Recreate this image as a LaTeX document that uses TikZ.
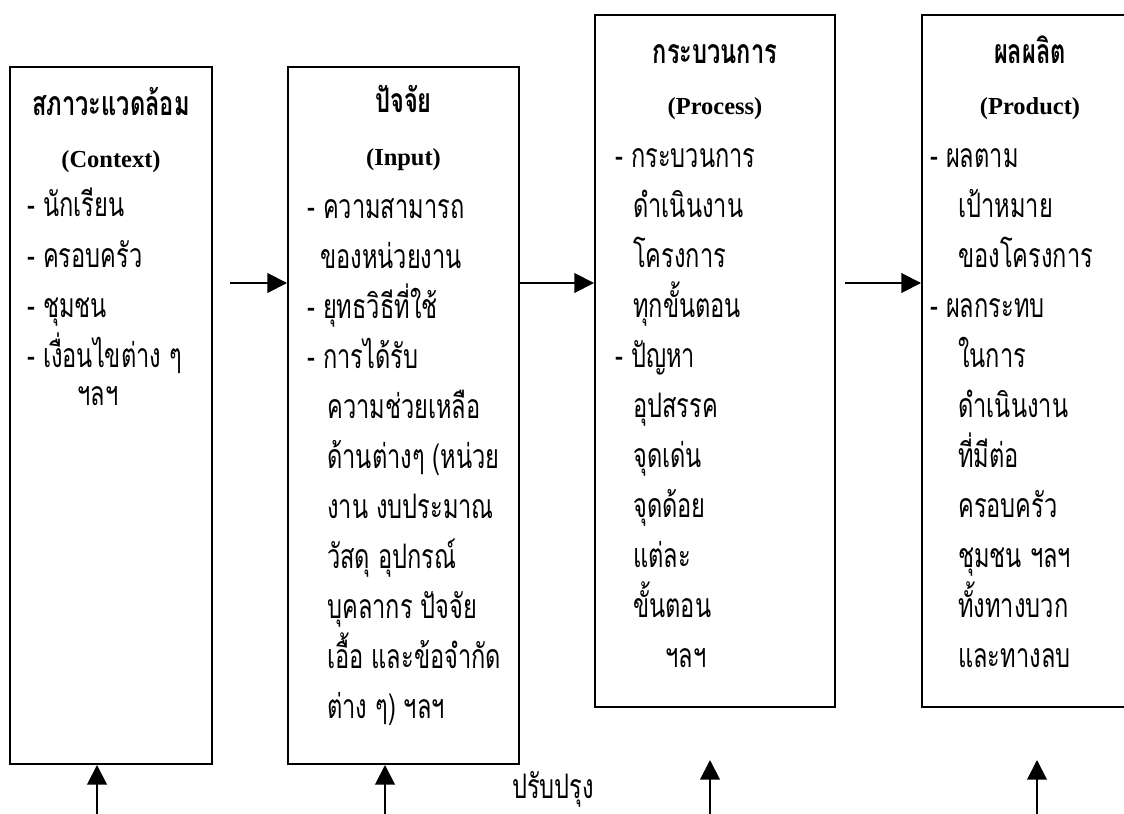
\documentclass[tikz,border=0pt]{standalone}
\usepackage{fontspec}
\newfontfamily\thaifont[Script=Thai,FakeStretch=0.7]{Loma}
\newfontfamily\latinfont{Liberation Serif}
\usetikzlibrary{arrows.meta,positioning}
\tikzset{
  >={Triangle[length=14pt,width=14pt]},
  stage/.style={draw, line width=1.4pt, inner sep=0pt},
  title/.style={font=\thaifont\bfseries\fontsize{24}{30}\selectfont, inner sep=0pt, anchor=base},
  eng/.style={font=\latinfont\bfseries\fontsize{17.4}{21}\selectfont, inner sep=0pt, anchor=base},
  item/.style={font=\thaifont\fontsize{24}{30}\selectfont, inner sep=0pt, anchor=base west},
  flow/.style={->, line width=1.4pt}
}
\begin{document}
\begin{tikzpicture}
\clip (0,0) rectangle (28.1,-20.35);
% the four stages
\node[stage, minimum width=5.05cm, minimum height=17.425cm] (ctx) at (2.775,-10.3875) {};
\node[stage, minimum width=5.775cm, minimum height=17.425cm] (inp) at (10.0875,-10.3875) {};
\node[stage, minimum width=6cm, minimum height=17.3cm] (proc) at (17.875,-9.025) {};
\node[stage, minimum width=5.7cm, minimum height=17.3cm] (prod) at (25.9,-9.025) {};
% headings
\node[title] (ctx-t) at (2.775,-2.875) {สภาวะแวดล้อม};
\node[eng] (ctx-e) at (2.775,-4.175) {(Context)};
\node[title] (inp-t) at (10.0875,-2.8) {ปัจจัย};
\node[eng] (inp-e) at (10.0875,-4.125) {(Input)};
\node[title] (proc-t) at (17.875,-1.575) {กระบวนการ};
\node[eng] (proc-e) at (17.875,-2.85) {(Process)};
\node[title] (prod-t) at (25.75,-1.575) {ผลผลิต};
\node[eng] (prod-e) at (25.75,-2.85) {(Product)};
% items
\foreach \x/\y/\txt [count=\i] in {0.675/5.4/- นักเรียน, 0.675/6.675/- ครอบครัว,
    0.675/7.925/- ชุมชน, 0.675/9.175/- เงื่อนไขต่าง ๆ, 1.925/10.125/ฯลฯ}
  \node[item] (ctx-\i) at (\x,-\y) {\txt};
\foreach \x/\txt [count=\i] in {7.675/- ความสามารถ, 8.0/ของหน่วยงาน, 7.675/- ยุทธวิธีที่ใช้,
    7.675/- การได้รับ, 8.175/ความช่วยเหลือ, 8.175/ด้านต่างๆ (หน่วย, 8.175/งาน งบประมาณ,
    8.175/วัสดุ อุปกรณ์, 8.175/บุคลากร ปัจจัย, 8.175/เอื้อ และข้อจำกัด, 8.175/ต่าง ๆ) ฯลฯ}
  \node[item] (inp-\i) at (\x,{-5.45-1.25*(\i-1)}) {\txt};
\foreach \x/\txt [count=\i] in {15.375/- กระบวนการ, 15.825/ดำเนินงาน, 15.825/โครงการ,
    15.825/ทุกขั้นตอน, 15.375/- ปัญหา, 15.825/อุปสรรค, 15.825/จุดเด่น, 15.825/จุดด้อย,
    15.825/แต่ละ, 15.825/ขั้นตอน, 16.625/ฯลฯ}
  \node[item] (proc-\i) at (\x,{-4.175-1.25*(\i-1)}) {\txt};
\foreach \x/\txt [count=\i] in {23.25/- ผลตาม, 23.95/เป้าหมาย, 23.95/ของโครงการ,
    23.25/- ผลกระทบ, 23.95/ในการ, 23.95/ดำเนินงาน, 23.95/ที่มีต่อ, 23.95/ครอบครัว,
    23.95/ชุมชน ฯลฯ, 23.95/ทั้งทางบวก, 23.95/และทางลบ}
  \node[item] (prod-\i) at (\x,{-4.175-1.25*(\i-1)}) {\txt};
% flow between stages
\coordinate (a1) at (5.75,-7.075);
\coordinate (a2) at (12.975,-7.075);
\coordinate (a3) at (21.125,-7.075);
\draw[flow] (a1) -- (a1 -| inp.west);
\draw[flow] (a2 -| inp.east) -- (a2 -| proc.west);
\draw[flow] (a3) -- (a3 -| prod.west);
% feedback from below
\coordinate (b1) at (2.425,-20.5);
\coordinate (b2) at (9.625,-20.5);
\coordinate (b3) at (17.75,-20.5);
\coordinate (b4) at (25.925,-20.5);
\coordinate (t3) at (17.75,-19.0);
\coordinate (t4) at (25.925,-19.0);
\draw[flow] (b1) -- (b1 |- ctx.south);
\draw[flow] (b2) -- (b2 |- inp.south);
\draw[flow] (b3) -- (t3);
\draw[flow] (b4) -- (t4);
\node[item, anchor=base] (fix) at (13.825,-19.95) {ปรับปรุง};
\end{tikzpicture}
\end{document}
